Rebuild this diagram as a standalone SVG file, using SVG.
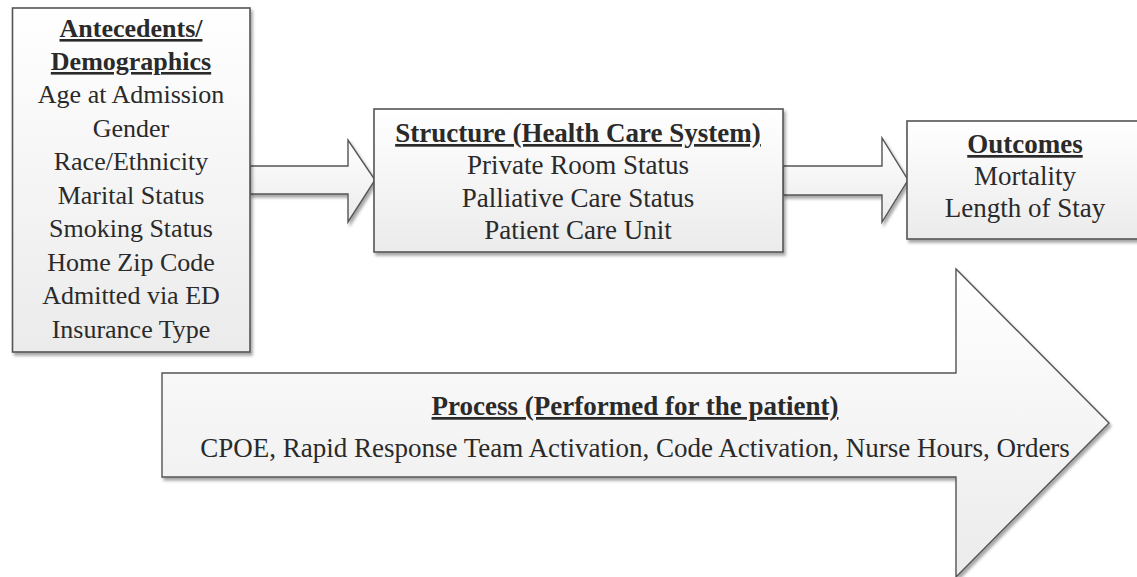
<svg xmlns="http://www.w3.org/2000/svg" width="1137" height="577" viewBox="0 0 1137 577">
<defs>
<linearGradient id="g" x1="0" y1="0" x2="0" y2="1">
<stop offset="0" stop-color="#ffffff"/>
<stop offset="1" stop-color="#ebebeb"/>
</linearGradient>
<filter id="sh" x="-5%" y="-5%" width="110%" height="115%">
<feDropShadow dx="2" dy="3" stdDeviation="1.5" flood-color="#000" flood-opacity="0.35"/>
</filter>
<style>
.box{fill:url(#g);stroke:#555;stroke-width:1.6;filter:url(#sh)}
.arr{fill:url(#g);stroke:#555;stroke-width:1.4;stroke-linejoin:miter;filter:url(#sh)}
text{fill:#2a2a2a;text-anchor:middle;font-family:"Liberation Serif","Times New Roman",Times,Tinos,"Nimbus Roman","Nimbus Roman No9 L","Noto Serif","DejaVu Serif",FreeSerif,serif}
.t{font-weight:bold;text-decoration:underline}
.s26{font-size:26px}
.s27{font-size:27px}
</style>
</defs>
<rect width="1137" height="577" fill="#ffffff"/>
<g id="connectors">
<polygon class="arr" points="250,166 348,166 348,140 375,180 348,222 348,194 250,194"/>
<polygon class="arr" points="783,166 882,166 882,138 908,180 882,222 882,195 783,195"/>
</g>
<g id="process">
<polygon class="arr" points="162,373 956,373 956,269 1109,423 956,577 956,477 162,477"/>
<text class="s27 t" x="635" y="415">Process (Performed for the patient)</text>
<text class="s27" x="635" y="457">CPOE, Rapid Response Team Activation, Code Activation, Nurse Hours, Orders</text>
</g>
<g id="antecedents">
<rect class="box" x="12.5" y="8" width="237.5" height="344"/>
<text class="s26 t" x="131" y="37">Antecedents/</text>
<text class="s26 t" x="131" y="70">Demographics</text>
<text class="s26" x="131" y="103">Age at Admission</text>
<text class="s26" x="131" y="136.5">Gender</text>
<text class="s26" x="131" y="170">Race/Ethnicity</text>
<text class="s26" x="131" y="203.5">Marital Status</text>
<text class="s26" x="131" y="237">Smoking Status</text>
<text class="s26" x="131" y="270.5">Home Zip Code</text>
<text class="s26" x="131" y="304">Admitted via ED</text>
<text class="s26" x="131" y="337.5">Insurance Type</text>
</g>
<g id="structure">
<rect class="box" x="374" y="109" width="409" height="143"/>
<text class="s27 t" x="578" y="142">Structure (Health Care System)</text>
<text class="s27" x="578" y="174">Private Room Status</text>
<text class="s27" x="578" y="207">Palliative Care Status</text>
<text class="s27" x="578" y="239">Patient Care Unit</text>
</g>
<g id="outcomes">
<rect class="box" x="907" y="121" width="236" height="118"/>
<text class="s27 t" x="1025" y="153">Outcomes</text>
<text class="s27" x="1025" y="185">Mortality</text>
<text class="s27" x="1025" y="217">Length of Stay</text>
</g>
</svg>
